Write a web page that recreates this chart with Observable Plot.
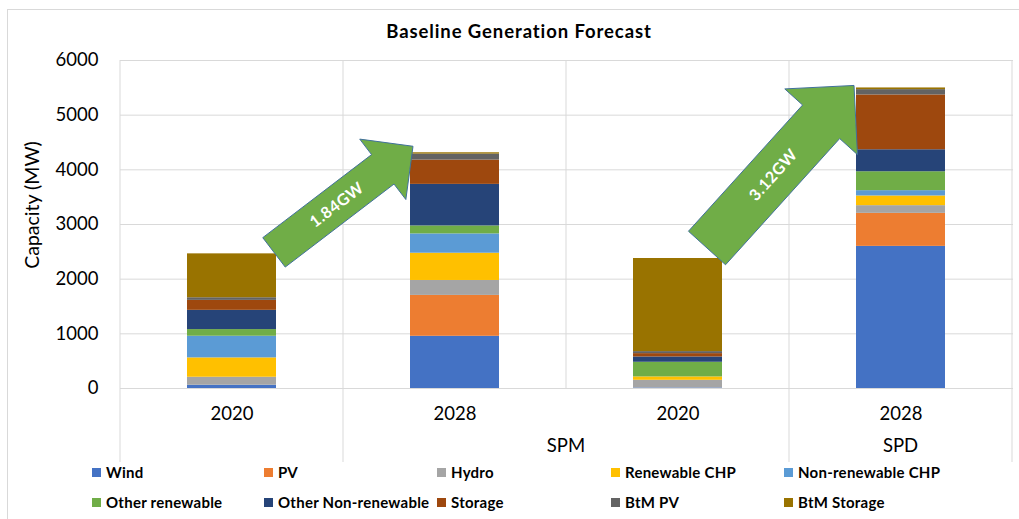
<!DOCTYPE html>
<html>
<head>
<meta charset="utf-8">
<script src="https://cdn.jsdelivr.net/npm/d3@7"></script>
<script src="https://cdn.jsdelivr.net/npm/@observablehq/plot@0.6"></script>
<style>
  html, body { margin: 0; padding: 0; background: #fff; }
  #wrap { position: relative; width: 1019px; height: 519px; overflow: hidden; font-family: Lato, "Open Sans", sans-serif; color: #000; }
  #title { position: absolute; left: 0; top: 20px; width: 1038px; text-align: center; font-weight: bold; font-size: 18.5px; letter-spacing: 0.9px; line-height: 22px; }
  #chart { position: absolute; left: 0; top: 0; }
  #frame { position: absolute; left: 7px; top: 9px; width: 1030px; height: 530px; border-top: 1px solid #d9d9d9; border-left: 1px solid #d9d9d9; pointer-events: none; }
  #legend { position: absolute; left: 92px; top: 462px; display: grid; grid-template-columns: 172px 173px 174px 173px 172px; grid-auto-rows: 30px; }
  .item { display: flex; align-items: center; height: 20px; font-weight: bold; font-size: 15px; letter-spacing: 0.25px; white-space: nowrap; }
  .sw { width: 9px; height: 9px; margin-right: 5px; flex: none; }
</style>
</head>
<body>
<div id="wrap">
  <div id="chart"></div>
  <div id="title">Baseline Generation Forecast</div>
  <div id="legend"></div>
  <div id="frame"></div>
</div>
<script>
// ---- data ----
const categories = ["SPM 2020", "SPM 2028", "SPD 2020", "SPD 2028"];
const yearLabels = ["2020", "2028", "2020", "2028"];
const regionLabels = ["SPM", "SPD"];
const yTicks = [0, 1000, 2000, 3000, 4000, 5000, 6000];
const seriesNames = ["Wind", "PV", "Hydro", "Renewable CHP", "Non-renewable CHP",
  "Other renewable", "Other Non-renewable", "Storage", "BtM PV", "BtM Storage"];
const seriesColors = ["#4472C4", "#ED7D31", "#A5A5A5", "#FFC000", "#5B9BD5",
  "#70AD47", "#264478", "#9E480E", "#636363", "#997300"];
const wind              = [60, 955, 10, 2600];
const pv                = [0, 748, 0, 604];
const hydro             = [146, 273, 140, 141];
const renewableCHP      = [354, 499, 62, 177];
const nonRenewableCHP   = [396, 353, 0, 97];
const otherRenewable    = [122, 146, 268, 346];
const otherNonRenewable = [352, 760, 97, 402];
const storage           = [182, 445, 61, 1003];
const btmPV             = [48, 109, 37, 97];
const btmStorage        = [803, 24, 1703, 31];
const growthLabels = ["1.84GW", "3.12GW"];

const seriesValues = [wind, pv, hydro, renewableCHP, nonRenewableCHP,
  otherRenewable, otherNonRenewable, storage, btmPV, btmStorage];
const rows = seriesNames.flatMap((s, si) =>
  categories.map((c, ci) => ({category: c, series: s, value: seriesValues[si][ci]})));
const totals = categories.map((c, ci) => d3.sum(seriesValues, v => v[ci]));

// ---- chart ----
const chart = Plot.plot({
  width: 1019,
  height: 465,
  marginTop: 60,
  marginBottom: 77,
  marginLeft: 120,
  marginRight: 6,
  style: {fontFamily: "Lato, 'Open Sans', sans-serif", fontSize: "18px", background: "transparent", color: "#000"},
  x: {domain: categories, paddingInner: 0.6, paddingOuter: 0.3},
  y: {domain: [0, 6000]},
  color: {domain: seriesNames, range: seriesColors},
  marks: [
    Plot.gridY(yTicks, {stroke: "#d9d9d9", strokeOpacity: 1}),
    Plot.barY(rows, {x: "category", y: "value", fill: "series"}),
    Plot.axisY(yTicks, {tickSize: 0, tickPadding: 22, fontSize: 18.5, label: null, tickFormat: d => String(d)}),
    Plot.axisX({tickSize: 0, tickPadding: 18, fontSize: 18.5, label: null,
      tickFormat: d => yearLabels[categories.indexOf(d)]})
  ]
});
document.getElementById("chart").appendChild(chart);

// ---- annotations drawn through the plot's scales ----
const svg = d3.select(chart);
const xs = chart.scale("x"), ys = chart.scale("y");
const step = xs.step ?? (xs.apply(categories[1]) - xs.apply(categories[0]));
const bw = xs.bandwidth ?? step * 0.4;
const gap = (step - bw) / 2;
const bound = i => xs.apply(categories[0]) - gap + i * step;
const yTop = ys.apply(6000), y0 = ys.apply(0), yAxisBottom = y0 + 74;

const g = svg.append("g");
[0, 1, 2, 3, 4].forEach(i => {
  g.append("line")
    .attr("x1", bound(i)).attr("x2", bound(i))
    .attr("y1", yTop).attr("y2", i === 2 ? y0 : yAxisBottom)
    .attr("stroke", "#d9d9d9").attr("stroke-width", 1);
});

// region labels
g.append("text").attr("x", bound(2)).attr("y", y0 + 64)
  .attr("text-anchor", "middle").attr("font-size", 18.5).attr("fill", "#000").text(regionLabels[0]);
g.append("text").attr("x", xs.apply(categories[3]) + bw / 2).attr("y", y0 + 64)
  .attr("text-anchor", "middle").attr("font-size", 18.5).attr("fill", "#000").text(regionLabels[1]);

// y label
g.append("text").attr("transform", `translate(39,205) rotate(-90)`)
  .attr("text-anchor", "middle").attr("font-size", 19.5).attr("fill", "#000").text("Capacity (MW)");

// arrows
function arrowPoints(tail, tip, shaftW, headW, headL) {
  const dx = tip[0] - tail[0], dy = tip[1] - tail[1], L = Math.hypot(dx, dy);
  const ux = dx / L, uy = dy / L, nx = -uy, ny = ux;
  const base = [tip[0] - ux * headL, tip[1] - uy * headL];
  const p = (c, s) => [c[0] + nx * s, c[1] + ny * s];
  return [p(tail, shaftW / 2), p(base, shaftW / 2), p(base, headW / 2), tip,
          p(base, -headW / 2), p(base, -shaftW / 2), p(tail, -shaftW / 2)];
}
const arrows = [
  {tail: [xs.apply(categories[0]) + bw - 2, ys.apply(totals[0]) - 1],
   tip: [xs.apply(categories[1]) + 3, ys.apply(totals[1]) - 6], shaft: 37, head: 76, headL: 38, label: growthLabels[0]},
  {tail: [xs.apply(categories[2]) + bw - 15, ys.apply(totals[2]) - 10],
   tip: [xs.apply(categories[3]) - 2, ys.apply(totals[3]) - 2], shaft: 50, head: 98, headL: 49, label: growthLabels[1]}
];
arrows.forEach(a => {
  const pts = arrowPoints(a.tail, a.tip, a.shaft, a.head, a.headL);
  g.append("polygon").attr("points", pts.map(p => p.join(",")).join(" "))
    .attr("fill", "#70AD47").attr("stroke", "#41719C").attr("stroke-width", 1);
  const t = 0.45;
  const cx = a.tail[0] + t * (a.tip[0] - a.tail[0]);
  const cy = a.tail[1] + t * (a.tip[1] - a.tail[1]);
  const ang = Math.atan2(a.tip[1] - a.tail[1], a.tip[0] - a.tail[0]) * 180 / Math.PI;
  g.append("text").attr("transform", `translate(${cx},${cy}) rotate(${ang})`)
    .attr("text-anchor", "middle").attr("dy", "0.35em")
    .attr("font-size", 16).attr("font-weight", "bold").attr("letter-spacing", "0.5px").attr("fill", "#fff").text(a.label);
});

// ---- legend ----
const legend = d3.select("#legend");
seriesNames.forEach((s, i) => {
  const it = legend.append("div").attr("class", "item");
  it.append("span").attr("class", "sw").style("background", seriesColors[i]);
  it.append("span").text(s);
});
</script>
</body>
</html>
